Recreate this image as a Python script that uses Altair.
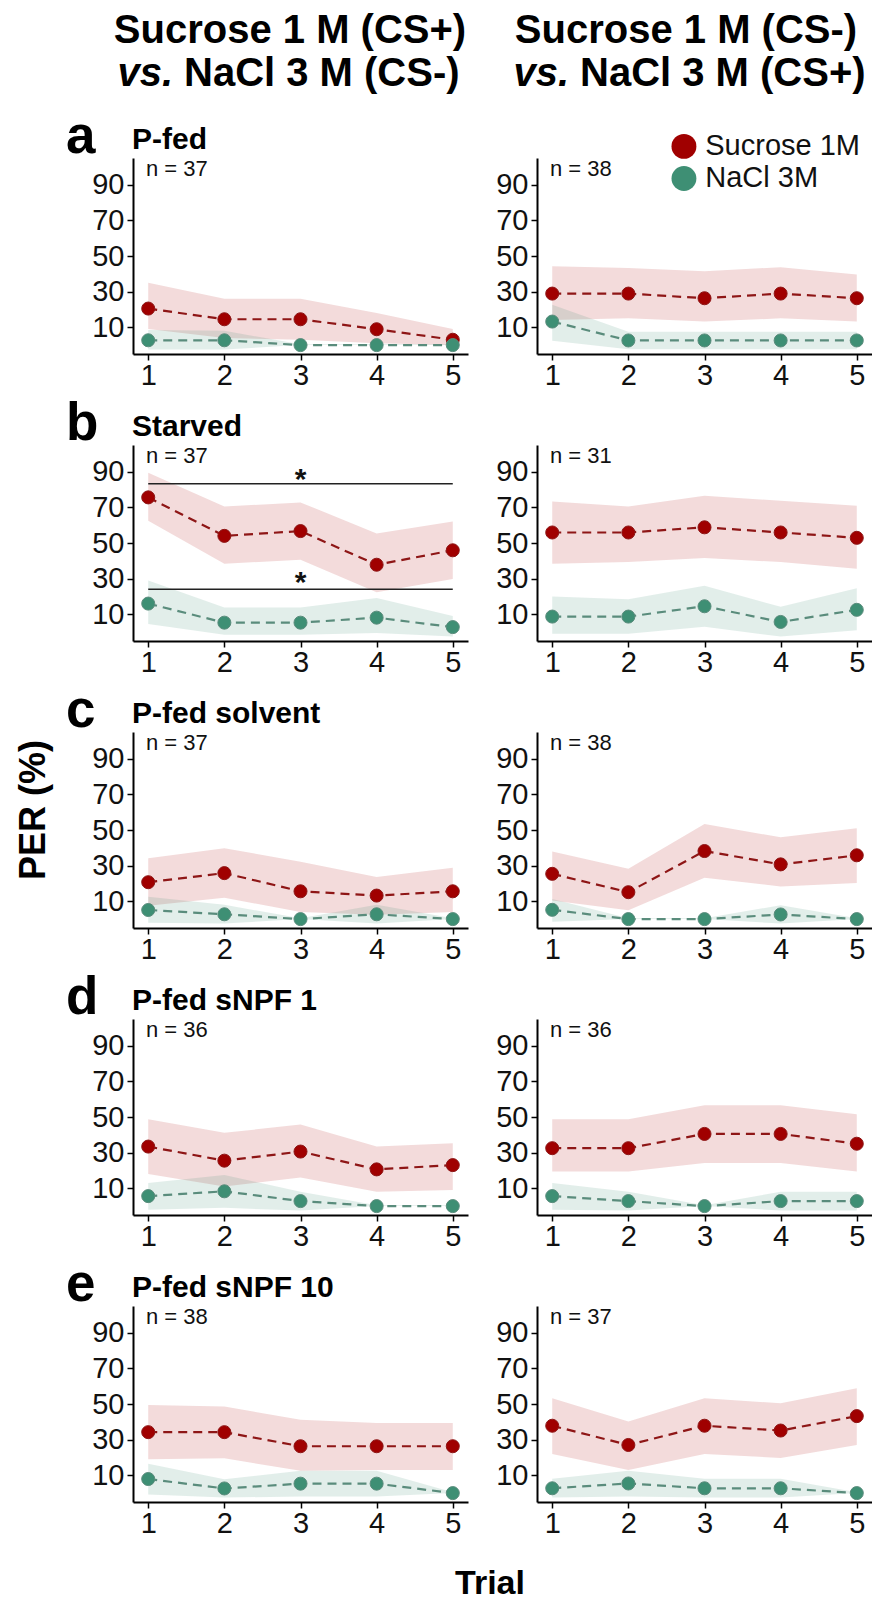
import altair as alt
import pandas as pd

# ---------------- data ----------------
TRIALS = [1, 2, 3, 4, 5]
Y_TICKS = [10, 30, 50, 70, 90]

ROW_LETTERS = ["a", "b", "c", "d", "e"]
ROW_TITLES = ["P-fed", "Starved", "P-fed solvent", "P-fed sNPF 1", "P-fed sNPF 10"]
N_LEFT = [37, 37, 37, 36, 38]
N_RIGHT = [38, 31, 38, 36, 37]
HEAD_LINE1 = ["Sucrose 1 M (CS+)", "Sucrose 1 M (CS-)"]
HEAD_LINE2 = ["NaCl 3 M (CS-)", "NaCl 3 M (CS+)"]
LEGEND_LABELS = ["Sucrose 1M", "NaCl 3M"]

# panel a, left
a_l_suc = [20.5, 14.5, 14.5, 8.9, 3.0]
a_l_suc_lo = [9.0, 4.0, 3.0, 1.0, 0.0]
a_l_suc_hi = [35.0, 26.0, 26.0, 18.0, 9.0]
a_l_nacl = [2.7, 2.7, 0.0, 0.0, 0.0]
a_l_nacl_lo = [-2.5, -2.5, 0.0, 0.0, 0.0]
a_l_nacl_hi = [8.5, 8.0, 0.5, 0.5, 0.5]
# panel a, right
a_r_suc = [28.9, 28.9, 26.3, 28.9, 26.3]
a_r_suc_lo = [14.1, 15.0, 13.2, 15.0, 13.2]
a_r_suc_hi = [44.3, 43.3, 41.5, 43.7, 39.6]
a_r_nacl = [13.2, 2.6, 2.6, 2.6, 2.6]
a_r_nacl_lo = [2.5, -2.3, -2.3, -2.3, -2.3]
a_r_nacl_hi = [22.6, 7.5, 7.5, 7.5, 7.5]
# panel b, left
b_l_suc = [75.6, 54.0, 56.7, 37.8, 45.9]
b_l_suc_lo = [62.5, 38.4, 40.6, 22.3, 29.8]
b_l_suc_hi = [89.4, 70.5, 72.8, 55.4, 62.0]
b_l_nacl = [16.0, 5.3, 5.3, 8.1, 2.8]
b_l_nacl_lo = [4.5, -1.5, -1.5, -0.5, -2.5]
b_l_nacl_hi = [28.9, 13.8, 13.8, 19.1, 9.0]
# panel b, right
b_r_suc = [55.9, 55.9, 58.8, 55.9, 52.9]
b_r_suc_lo = [38.4, 39.3, 41.6, 39.3, 35.5]
b_r_suc_hi = [73.3, 70.5, 76.5, 73.7, 70.9]
b_r_nacl = [8.7, 8.7, 14.5, 5.7, 12.5]
b_r_nacl_lo = [-1.0, -1.0, 3.0, -2.5, 1.0]
b_r_nacl_hi = [20.0, 18.5, 26.0, 14.2, 24.6]
# panel c, left
c_l_suc = [20.7, 25.8, 15.6, 13.2, 15.6]
c_l_suc_lo = [7.5, 12.0, 4.0, 2.5, 4.0]
c_l_suc_hi = [34.1, 39.8, 32.2, 23.6, 28.8]
c_l_nacl = [5.1, 2.7, 0.0, 2.7, 0.0]
c_l_nacl_lo = [-2.0, -2.5, 0.0, -2.5, 0.0]
c_l_nacl_hi = [12.5, 8.0, 0.5, 8.0, 0.5]
# panel c, right
c_r_suc = [25.4, 15.1, 38.2, 30.7, 35.8]
c_r_suc_lo = [10.4, 5.0, 23.2, 18.3, 20.2]
c_r_suc_hi = [37.9, 28.3, 53.4, 45.9, 51.0]
c_r_nacl = [5.2, 0.0, 0.0, 2.6, 0.0]
c_r_nacl_lo = [-1.5, 0.0, 0.0, -2.5, 0.0]
c_r_nacl_hi = [11.3, 0.5, 0.5, 7.8, 0.5]
# panel d, left
d_l_suc = [33.4, 25.5, 30.6, 20.6, 23.0]
d_l_suc_lo = [18.0, 11.0, 16.0, 8.0, 9.0]
d_l_suc_hi = [48.7, 41.1, 45.8, 33.4, 35.3]
d_l_nacl = [5.6, 8.3, 2.8, 0.0, 0.0]
d_l_nacl_lo = [-2.0, -1.0, -2.5, 0.0, 0.0]
d_l_nacl_hi = [13.0, 17.5, 8.0, 0.5, 0.5]
# panel d, right
d_r_suc = [32.5, 32.5, 40.5, 40.5, 35.0]
d_r_suc_lo = [19.4, 19.4, 24.2, 24.2, 19.4]
d_r_suc_hi = [48.7, 48.7, 56.6, 56.6, 51.5]
d_r_nacl = [5.6, 2.8, 0.0, 2.8, 2.8]
d_r_nacl_lo = [-2.0, -2.5, 0.0, -2.5, -2.5]
d_r_nacl_hi = [13.0, 8.0, 0.5, 8.0, 8.0]
# panel e, left
e_l_suc = [34.2, 34.2, 26.3, 26.3, 26.3]
e_l_suc_lo = [19.0, 19.5, 12.5, 13.0, 13.0]
e_l_suc_hi = [49.5, 48.6, 41.2, 39.3, 39.3]
e_l_nacl = [7.9, 2.6, 5.3, 5.3, 0.0]
e_l_nacl_lo = [-0.8, -2.5, -1.9, -1.9, 0.0]
e_l_nacl_hi = [16.5, 7.8, 12.5, 12.5, 0.5]
# panel e, right
e_r_suc = [37.8, 27.0, 37.8, 35.1, 43.2]
e_r_suc_lo = [22.0, 13.0, 22.0, 19.7, 27.0]
e_r_suc_hi = [53.2, 40.2, 53.2, 50.4, 58.8]
e_r_nacl = [2.7, 5.4, 2.7, 2.7, 0.0]
e_r_nacl_lo = [-2.5, -1.9, -2.5, -2.5, 0.0]
e_r_nacl_hi = [8.0, 12.5, 8.0, 8.0, 0.5]

# significance bars in panel b (left): line level and star level
SIG_LINE_Y = [83.2, 24.0]
SIG_STAR_Y = [80.3, 22.3]
SIG_X = [1, 5]

# legend anchor (data coordinates of panel a, right)
LEGEND_Y = [111.5, 93.5]

PANEL_DATA = {
    ("a", 0): (a_l_suc, a_l_suc_lo, a_l_suc_hi, a_l_nacl, a_l_nacl_lo, a_l_nacl_hi),
    ("a", 1): (a_r_suc, a_r_suc_lo, a_r_suc_hi, a_r_nacl, a_r_nacl_lo, a_r_nacl_hi),
    ("b", 0): (b_l_suc, b_l_suc_lo, b_l_suc_hi, b_l_nacl, b_l_nacl_lo, b_l_nacl_hi),
    ("b", 1): (b_r_suc, b_r_suc_lo, b_r_suc_hi, b_r_nacl, b_r_nacl_lo, b_r_nacl_hi),
    ("c", 0): (c_l_suc, c_l_suc_lo, c_l_suc_hi, c_l_nacl, c_l_nacl_lo, c_l_nacl_hi),
    ("c", 1): (c_r_suc, c_r_suc_lo, c_r_suc_hi, c_r_nacl, c_r_nacl_lo, c_r_nacl_hi),
    ("d", 0): (d_l_suc, d_l_suc_lo, d_l_suc_hi, d_l_nacl, d_l_nacl_lo, d_l_nacl_hi),
    ("d", 1): (d_r_suc, d_r_suc_lo, d_r_suc_hi, d_r_nacl, d_r_nacl_lo, d_r_nacl_hi),
    ("e", 0): (e_l_suc, e_l_suc_lo, e_l_suc_hi, e_l_nacl, e_l_nacl_lo, e_l_nacl_hi),
    ("e", 1): (e_r_suc, e_r_suc_lo, e_r_suc_hi, e_r_nacl, e_r_nacl_lo, e_r_nacl_hi),
}

# ---------------- style ----------------
W, H = 335, 196
FONT = "Liberation Sans"
RED_PT = "#A00000"
RED_LINE = "#8E1616"
RED_FILL = "#B01010"
GREEN_PT = "#3E8F74"
GREEN_LINE = "#5A8C7C"
GREEN_FILL = "#3E8F74"

XS = alt.Scale(domain=[0.8, 5.2], nice=False, zero=False)
YS = alt.Scale(domain=[-5, 105], nice=False, zero=False)

x_axis = alt.Axis(values=TRIALS, format="d", title=None, grid=False,
                  domainColor="black", domainWidth=2, tickColor="black",
                  tickWidth=1.5, tickSize=6, labelFont=FONT, labelFontSize=29,
                  labelColor="#111111", labelPadding=1)
y_axis = alt.Axis(values=Y_TICKS, format="d", title=None, grid=False,
                  domainColor="black", domainWidth=2, tickColor="black",
                  tickWidth=1.5, tickSize=6, labelFont=FONT, labelFontSize=29,
                  labelColor="#111111", labelPadding=3)


def series_layers(mean, lo, hi, fill, line, pt):
    df = pd.DataFrame({"trial": TRIALS, "mean": mean, "lo": lo, "hi": hi})
    base = alt.Chart(df)
    band = base.mark_area(color=fill, fillOpacity=0.15).encode(
        x=alt.X("trial:Q", scale=XS, axis=x_axis),
        y=alt.Y("lo:Q", scale=YS, axis=y_axis, stack=None),
        y2="hi:Q",
    )
    ln = base.mark_line(color=line, strokeDash=[9, 6], strokeWidth=2.2).encode(
        x=alt.X("trial:Q", scale=XS, axis=x_axis),
        y=alt.Y("mean:Q", scale=YS, axis=y_axis),
    )
    pts = base.mark_circle(color=pt, size=170, opacity=1, stroke=line,
                           strokeWidth=1).encode(
        x=alt.X("trial:Q", scale=XS, axis=x_axis),
        y=alt.Y("mean:Q", scale=YS, axis=y_axis),
    )
    return band, ln, pts


def vtext(s, x, y, size, bold=True, italic=False, align="left",
          baseline="alphabetic", angle=0, color="black"):
    props = dict(text=s, font=FONT, fontSize=size, align=align,
                 baseline=baseline, color=color)
    if bold:
        props["fontWeight"] = "bold"
    if italic:
        props["fontStyle"] = "italic"
    if angle:
        props["angle"] = angle
    return alt.Chart(pd.DataFrame({"t": [s]})).mark_text(**props).encode(
        x=alt.value(x), y=alt.value(y))


def dtext(s, x, y, size, bold=False, align="left", baseline="middle"):
    props = dict(text=s, font=FONT, fontSize=size, align=align,
                 baseline=baseline, color="#111111")
    if bold:
        props["fontWeight"] = "bold"
    return alt.Chart(pd.DataFrame({"x": [x], "y": [y]})).mark_text(**props).encode(
        x=alt.X("x:Q", scale=XS, axis=x_axis),
        y=alt.Y("y:Q", scale=YS, axis=y_axis))


def panel(ri, col):
    letter = ROW_LETTERS[ri]
    suc, suc_lo, suc_hi, nacl, nacl_lo, nacl_hi = PANEL_DATA[(letter, col)]
    rb, rl, rp = series_layers(suc, suc_lo, suc_hi, RED_FILL, RED_LINE, RED_PT)
    gb, gl, gp = series_layers(nacl, nacl_lo, nacl_hi, GREEN_FILL, GREEN_LINE, GREEN_PT)
    n = N_LEFT[ri] if col == 0 else N_RIGHT[ri]
    layers = [rb, gb, rl, gl, rp, gp, dtext(f"n = {n}", 0.97, 99, 22)]

    if col == 0:
        layers.append(vtext(letter, -67, -5, 53))
        layers.append(vtext(ROW_TITLES[ri], -1, -9, 30))

    if ri == 0:
        cx = 157 if col == 0 else 149
        layers.append(vtext(HEAD_LINE1[col], cx, -127, 40, align="center",
                            baseline="middle"))
        # second line: italic "vs." + bold rest
        split = cx - 117
        layers.append(vtext("vs.", split, -84, 40, italic=True, align="right",
                            baseline="middle"))
        layers.append(vtext(HEAD_LINE2[col], split + 11, -84, 40, align="left",
                            baseline="middle"))

    if ri == 0 and col == 1:
        leg = pd.DataFrame({"x": [2.73, 2.73], "y": LEGEND_Y,
                            "s": LEGEND_LABELS})
        lp = alt.Chart(leg).mark_circle(size=620, opacity=1).encode(
            x=alt.X("x:Q", scale=XS, axis=x_axis),
            y=alt.Y("y:Q", scale=YS, axis=y_axis),
            color=alt.Color("s:N", scale=alt.Scale(domain=LEGEND_LABELS,
                                                   range=[RED_PT, GREEN_PT]),
                            legend=None),
        )
        layers.append(lp)
        layers.append(dtext(LEGEND_LABELS[0], 3.01, LEGEND_Y[0], 29))
        layers.append(dtext(LEGEND_LABELS[1], 3.01, LEGEND_Y[1], 29))

    if ri == 1 and col == 0:
        for ly, sy in zip(SIG_LINE_Y, SIG_STAR_Y):
            rule_df = pd.DataFrame({"x": [SIG_X[0]], "x2": [SIG_X[1]], "y": [ly]})
            layers.append(alt.Chart(rule_df).mark_rule(color="#222222", strokeWidth=1.5).encode(
                x=alt.X("x:Q", scale=XS, axis=x_axis), x2="x2:Q",
                y=alt.Y("y:Q", scale=YS, axis=y_axis)))
            layers.append(dtext("*", 3, sy, 30, bold=True, align="center",
                                baseline="alphabetic"))

    if ri == 2 and col == 0:
        layers.append(vtext("PER (%)", -99, 78, 36, align="center",
                            baseline="middle", angle=270))
    if ri == 4 and col == 0:
        layers.append(vtext("Trial", 357, 278, 34, align="center",
                            baseline="middle"))

    return alt.layer(*layers).properties(width=W, height=H)


panels = []
for ri in range(5):
    for col in range(2):
        panels.append(panel(ri, col))

chart = alt.concat(*panels, columns=2, spacing={"row": 91, "column": 69},
                   bounds="flush").properties(
    padding={"left": 16, "top": 11, "right": 0, "bottom": 0}
).configure_view(stroke=None)

chart.save("out.html", embed_options={"renderer": "svg", "actions": False})
